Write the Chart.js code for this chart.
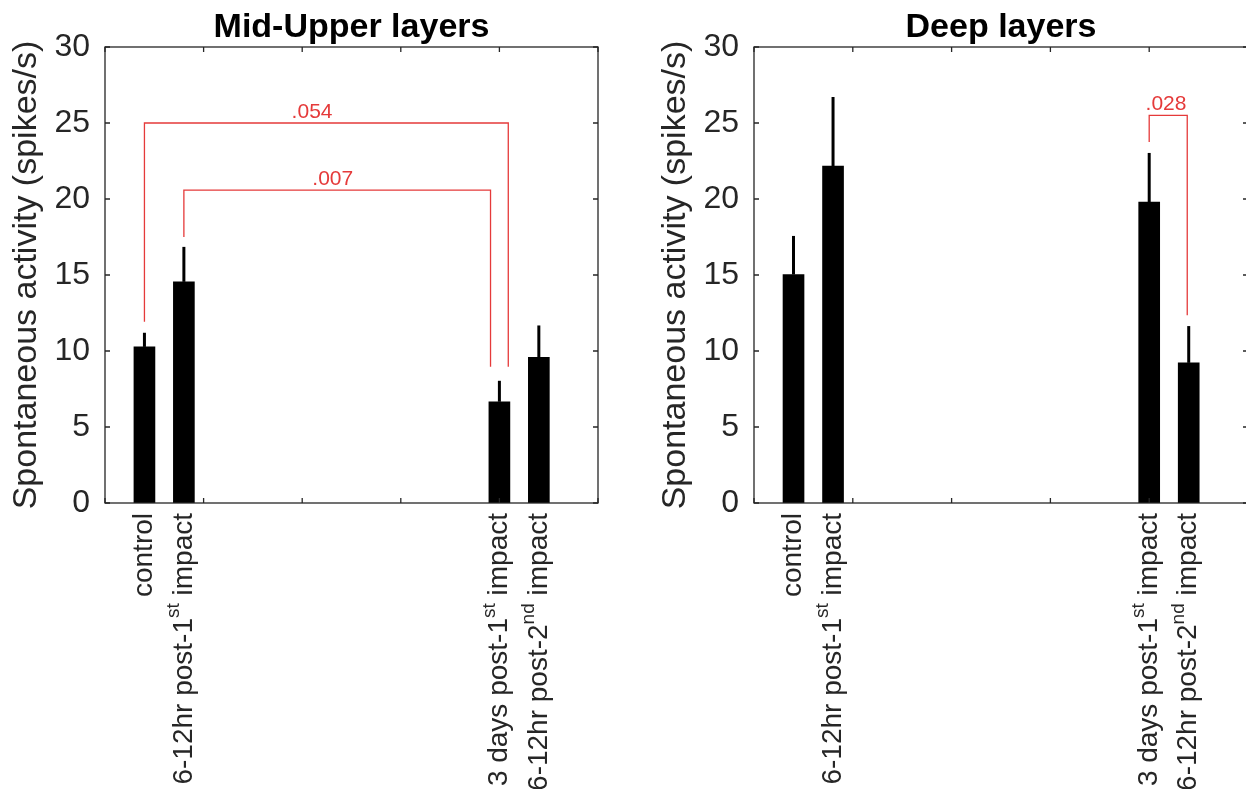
<!DOCTYPE html>
<html>
<head>
<meta charset="utf-8">
<script src="https://cdn.jsdelivr.net/npm/chart.js@4/dist/chart.umd.min.js"></script>
<style>
  html, body { margin: 0; padding: 0; background: #fff; overflow: hidden; width: 1246px; height: 789px; }
  canvas { position: absolute; top: 0; }
  #left { left: 0; }
  #right { left: 649px; }
</style>
</head>
<body>
<canvas id="left" width="623" height="789"></canvas>
<canvas id="right" width="620" height="789"></canvas>
<script>
// group labels, ^{..} marks a superscript
const categories = ['control', '6-12hr post-1^{st} impact', '3 days post-1^{st} impact', '6-12hr post-2^{nd} impact'];
const xPositions = [0.4, 0.8, 4.0, 4.4];

const midUpperMean = [10.27, 14.55, 6.66, 9.58];
const midUpperErrTop = [11.2, 16.85, 8.04, 11.68];
const deepMean = [15.03, 22.16, 19.79, 9.22];
const deepErrTop = [17.57, 26.71, 23.03, 11.64];

// significance brackets
const midUpperSigText = ['.054', '.007'];
const midUpperSigLeftX = [0.4, 0.8];
const midUpperSigRightX = [4.09, 3.91];
const midUpperSigTop = [25.0, 20.58];
const midUpperSigLeftEnd = [11.92, 17.5];
const midUpperSigRightEnd = [8.96, 8.96];
const midUpperSigTextX = [2.1, 2.31];

const deepSigText = ['.028'];
const deepSigLeftX = [4.0];
const deepSigRightX = [4.385];
const deepSigTop = [25.5];
const deepSigLeftEnd = [23.75];
const deepSigRightEnd = [12.36];
const deepSigTextX = [4.17];

const yMin = 0, yMax = 30, yStep = 5;
const xMin = 0, xMax = 5;

const axisColor = '#262626';
const sigColor = '#e53a3a';
const fontFamily = '"Liberation Sans", Arial, Helvetica, sans-serif';

const panelDecor = {
  id: 'panelDecor',
  afterDatasetsDraw(chart, args, opts) {
    const { ctx, chartArea: { left, top, right, bottom } } = chart;
    const xs = chart.scales.x, ys = chart.scales.y;

    ctx.save();
    // error bars (upper only)
    ctx.strokeStyle = '#000';
    ctx.lineWidth = 3;
    opts.errTop.forEach((v, i) => {
      const x = xs.getPixelForValue(xPositions[i]);
      ctx.beginPath();
      ctx.moveTo(x, ys.getPixelForValue(opts.mean[i]));
      ctx.lineTo(x, ys.getPixelForValue(v));
      ctx.stroke();
    });

    // box and inward ticks
    ctx.strokeStyle = axisColor;
    ctx.lineWidth = 1.3;
    ctx.strokeRect(left, top, right - left, bottom - top);
    ctx.beginPath();
    ys.ticks.forEach((t) => {
      const y = ys.getPixelForValue(t.value);
      ctx.moveTo(left, y); ctx.lineTo(left + 5, y);
      ctx.moveTo(right, y); ctx.lineTo(right - 5, y);
    });
    xs.ticks.forEach((t) => {
      const x = xs.getPixelForValue(t.value);
      ctx.moveTo(x, top); ctx.lineTo(x, top + 5);
      ctx.moveTo(x, bottom); ctx.lineTo(x, bottom - 5);
    });
    ctx.stroke();

    // significance brackets
    ctx.strokeStyle = sigColor;
    ctx.fillStyle = sigColor;
    ctx.lineWidth = 1.3;
    ctx.font = '21px ' + fontFamily;
    ctx.textAlign = 'center';
    ctx.textBaseline = 'alphabetic';
    opts.sig.text.forEach((txt, i) => {
      const xl = xs.getPixelForValue(opts.sig.leftX[i]);
      const xr = xs.getPixelForValue(opts.sig.rightX[i]);
      const yt = ys.getPixelForValue(opts.sig.top[i]);
      ctx.beginPath();
      ctx.moveTo(xl, ys.getPixelForValue(opts.sig.leftEnd[i]));
      ctx.lineTo(xl, yt);
      ctx.lineTo(xr, yt);
      ctx.lineTo(xr, ys.getPixelForValue(opts.sig.rightEnd[i]));
      ctx.stroke();
      ctx.fillText(txt, xs.getPixelForValue(opts.sig.textX[i]), yt - 5);
    });

    // title
    ctx.fillStyle = '#000';
    ctx.font = 'bold 34px ' + fontFamily;
    ctx.fillText(opts.title, (left + right) / 2, top - 10);

    // rotated category labels with superscripts
    ctx.fillStyle = axisColor;
    categories.forEach((label, i) => {
      const parts = label.split(/\^\{|\}/);
      const x = xs.getPixelForValue(xPositions[i]);
      ctx.save();
      ctx.translate(x, bottom + 10);
      ctx.rotate(-Math.PI / 2);
      ctx.textBaseline = 'middle';
      ctx.textAlign = 'left';
      const fonts = parts.map((p, k) => (k % 2 ? '19px ' : '28px ') + fontFamily);
      const widths = parts.map((p, k) => { ctx.font = fonts[k]; return ctx.measureText(p).width; });
      let pos = -widths.reduce((a, b) => a + b, 0);
      parts.forEach((p, k) => {
        ctx.font = fonts[k];
        ctx.fillText(p, pos, k % 2 ? -10 : 0);
        pos += widths[k];
      });
      ctx.restore();
    });
    ctx.restore();
  },
};

function makePanel(id, title, mean, errTop, sig, padRight) {
  new Chart(document.getElementById(id), {
    type: 'bar',
    data: {
      datasets: [{
        data: xPositions.map((x, i) => ({ x: x, y: mean[i] })),
        backgroundColor: '#000',
        barThickness: 21,
      }],
    },
    plugins: [panelDecor],
    options: {
      responsive: false,
      animation: false,
      devicePixelRatio: 1,
      layout: { padding: { top: 47, right: padRight, bottom: 0, left: 0 } },
      plugins: {
        legend: { display: false },
        tooltip: { enabled: false },
        panelDecor: { title: title, mean: mean, errTop: errTop, sig: sig },
      },
      scales: {
        x: {
          type: 'linear',
          min: xMin,
          max: xMax,
          offset: false,
          ticks: { display: false, stepSize: 1 },
          grid: { display: false },
          border: { display: false },
          afterFit(scale) { scale.height = 286; },
        },
        y: {
          min: yMin,
          max: yMax,
          ticks: {
            stepSize: yStep,
            padding: 15,
            color: axisColor,
            font: { family: fontFamily, size: 32 },
          },
          grid: { display: false, drawTicks: false },
          border: { display: false },
          title: {
            display: true,
            text: 'Spontaneous activity (spikes/s)',
            color: axisColor,
            font: { family: fontFamily, size: 34 },
            padding: { top: 6, bottom: 0 },
          },
          afterFit(scale) { scale.width = 105; },
        },
      },
    },
  });
}

makePanel('left', 'Mid-Upper layers', midUpperMean, midUpperErrTop, {
  text: midUpperSigText, leftX: midUpperSigLeftX, rightX: midUpperSigRightX,
  top: midUpperSigTop, leftEnd: midUpperSigLeftEnd, rightEnd: midUpperSigRightEnd, textX: midUpperSigTextX,
}, 25);

makePanel('right', 'Deep layers', deepMean, deepErrTop, {
  text: deepSigText, leftX: deepSigLeftX, rightX: deepSigRightX,
  top: deepSigTop, leftEnd: deepSigLeftEnd, rightEnd: deepSigRightEnd, textX: deepSigTextX,
}, 21);
</script>
</body>
</html>
